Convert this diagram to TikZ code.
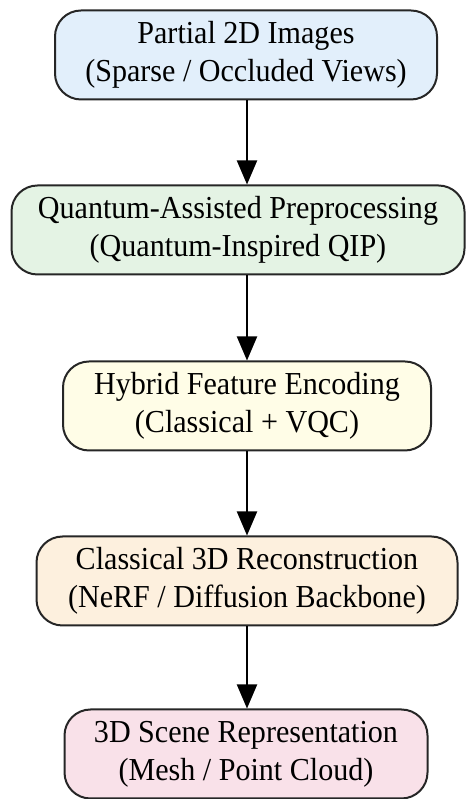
\documentclass[tikz,border=0pt]{standalone}
\usepackage{fontspec}
\setmainfont[FakeStretch=0.94]{Liberation Serif}
\usetikzlibrary{arrows.meta}
\definecolor{inblue}{HTML}{E2EFFB}
\definecolor{pregreen}{HTML}{E4F3E4}
\definecolor{encyellow}{HTML}{FFFDE7}
\definecolor{recorange}{HTML}{FDF0DE}
\definecolor{outpink}{HTML}{F9E1E9}
\tikzset{
    stage/.style={draw=black!85, line width=2pt, rounded corners=26pt, align=center,
        minimum height=89pt, inner sep=0pt,
        font=\fontsize{32}{38}\selectfont},
    flow/.style={line width=2pt, -{Triangle[width=20pt,length=24pt]}}
}
\begin{document}
\begin{tikzpicture}[x=1pt,y=1pt]
            \useasboundingbox (0,0) rectangle (472,799);
            \node[stage, fill=inblue, minimum width=382pt] (images) at (246,744){Partial 2D Images\\(Sparse / Occluded Views)};
            \node[stage, fill=pregreen, minimum width=453pt] (prep) at (238,569){Quantum-Assisted Preprocessing\\(Quantum-Inspired QIP)};
            \node[stage, fill=encyellow, minimum width=368pt] (enc) at (247,393){Hybrid Feature Encoding\\(Classical + VQC)};
            \node[stage, fill=recorange, minimum width=421pt] (recon) at (247,218){Classical 3D Reconstruction\\(NeRF / Diffusion Backbone)};
            \node[stage, fill=outpink, minimum width=363pt] (scene) at (246,45){3D Scene Representation\\(Mesh / Point Cloud)};

            \draw[flow] (images.south -| 247,0) -- (prep.north -| 247,0);
            \draw[flow] (prep.south -| 247,0) -- (enc.north -| 247,0);
            \draw[flow] (enc.south -| 247,0) -- (recon.north -| 247,0);
            \draw[flow] (recon.south -| 247,0) -- (scene.north -| 247,0);
\end{tikzpicture}
\end{document}
